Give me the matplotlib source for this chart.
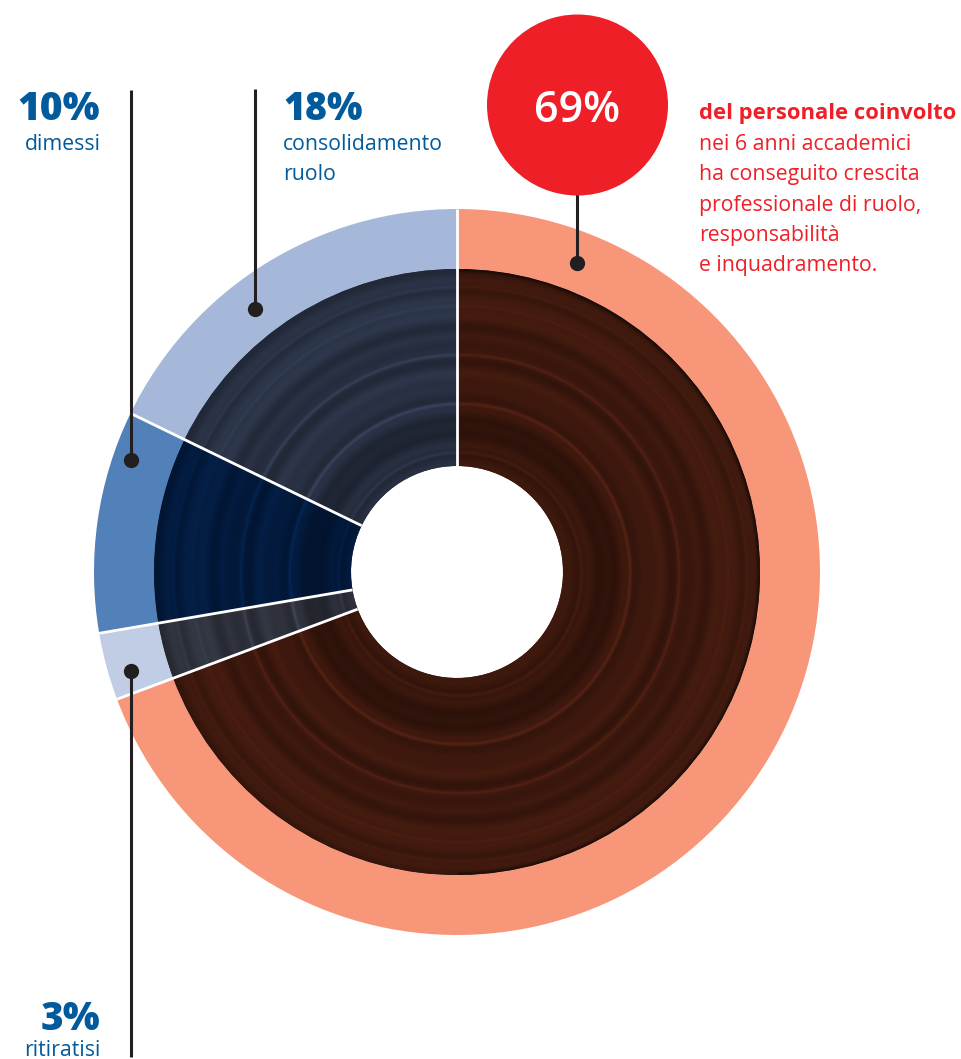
import matplotlib
matplotlib.use("Agg")
import matplotlib.pyplot as plt
import matplotlib.colors as colors
import numpy as np

# share of staff, clockwise from the top, as drawn in the ring
categories = ["crescita", "ritiratisi", "dimessi", "consolidamento ruolo"]
shares = [69.3, 3.0, 9.9, 17.8]

outer_colors = ["#f79678", "#c0cde4", "#5280b8", "#a6b8d9"]
inner_colors = ["#3a170d", "#2c2f39", "#03193a", "#262e3f"]

RED = "#ee1f27"
BLUE = "#005a9c"
INK = "#231f20"
H = 1059


def py(y):
    return H - y


plt.rcParams["font.family"] = ["Open Sans", "Noto Sans", "DejaVu Sans"]

fig = plt.figure(figsize=(9.61, 10.59), dpi=100)
ax = fig.add_axes([0, 0, 1, 1])

cx, cy = 457, py(572)
R_OUT, R_MID, R_IN = 363, 303, 106

# Outer ring
ax.pie(shares, colors=outer_colors, radius=R_OUT, center=(cx, cy),
       startangle=90, counterclock=False,
       wedgeprops=dict(width=R_OUT - R_MID, linewidth=0))

# Inner ring, the wedges are only used to clip the grooved texture
wedges, _ = ax.pie(shares, colors=inner_colors, radius=R_MID, center=(cx, cy),
                   startangle=90, counterclock=False,
                   wedgeprops=dict(width=R_MID - R_IN, linewidth=0))

# Concentric record grooves: soft bands plus thin bright rings
xx, yy = np.meshgrid(np.linspace(cx - R_MID, cx + R_MID, 1000),
                     np.linspace(cy - R_MID, cy + R_MID, 1000))
rr = np.hypot(xx - cx - 3, yy - cy + 2)
bands = (0.07 * np.sin(rr / 2.9 + 1.0) + 0.07 * np.sin(rr / 5.3 + 2.0)
         + 0.09 * np.sin(rr / 13.7 + 0.5) + 0.07 * np.sin(rr / 31.0))
rings = (np.sin(rr / 3.1) * np.sin(rr / 17.3 + 1.2)).clip(0, 1) ** 6
# the dark rim only shows on the right hand side
rim = np.clip((np.hypot(xx - cx, yy - cy) - R_MID + 4) / 4, 0, 1) * (xx > cx)
shade = 1 + bands + 0.45 * rings - 0.45 * rim

for wedge, base in zip(wedges, inner_colors):
    rgb = np.array(colors.to_rgb(base))
    img = np.clip(shade[..., None] * rgb, 0, 1)
    im = ax.imshow(img, origin="lower", zorder=2, interpolation="bilinear",
                   extent=(cx - R_MID, cx + R_MID, cy - R_MID, cy + R_MID))
    im.set_clip_path(wedge)

# White separators
edges = 90 - 3.6 * np.cumsum(shares)
for ang in edges:
    t = np.deg2rad(ang)
    ax.plot([cx + R_IN * np.cos(t), cx + R_OUT * np.cos(t)],
            [cy + R_IN * np.sin(t), cy + R_OUT * np.sin(t)],
            color="white", lw=2.0, zorder=3, solid_capstyle="butt")

# Leader lines with their dots
leaders = [(255, 89, 309), (131, 90, 460), (131, 1057, 671), (577, 190, 263)]
for x, y0, y1 in leaders:
    ax.plot([x, x], [py(y0), py(y1)], color=INK, lw=2.2, zorder=4,
            solid_capstyle="butt")
    ax.plot([x], [py(y1)], "o", color=INK, ms=11, mew=0, zorder=5)

# Red bubble
ax.add_patch(plt.Circle((577.5, py(105)), 90.5, color=RED, lw=0, zorder=6))
ax.text(577, py(122), "69%", color="white", fontsize=31, fontweight="semibold",
        ha="center", va="baseline", zorder=7)

# Blue labels
ax.text(100, py(120), "10%", color=BLUE, fontsize=28, fontweight="extra bold",
        ha="right", va="baseline")
ax.text(101, py(150), "dimessi", color=BLUE, fontsize=15.3, ha="right", va="baseline")
ax.text(283, py(120), "18%", color=BLUE, fontsize=27, fontweight="extra bold",
        ha="left", va="baseline")
ax.text(283, py(150), "consolidamento", color=BLUE, fontsize=15.3, va="baseline")
ax.text(283, py(180), "ruolo", color=BLUE, fontsize=15.3, va="baseline")
ax.text(100, py(1030), "3%", color=BLUE, fontsize=28, fontweight="extra bold",
        ha="right", va="baseline")
ax.text(101, py(1056), "ritiratisi", color=BLUE, fontsize=15.3, ha="right", va="baseline")

# Red caption
ax.text(699, py(119), "del personale coinvolto", color=RED, fontsize=15.8,
        fontweight="bold", va="baseline")
caption = ["nei 6 anni accademici", "ha conseguito crescita",
           "professionale di ruolo,", "responsabilità", "e inquadramento."]
for y, line in zip([150, 180, 211, 241, 271], caption):
    ax.text(699, py(y), line, color=RED, fontsize=15.3, va="baseline")

ax.set_xlim(0, 961)
ax.set_ylim(0, H)
ax.set_aspect("equal")
ax.axis("off")

fig.savefig("out.png", dpi=100, facecolor="white")
